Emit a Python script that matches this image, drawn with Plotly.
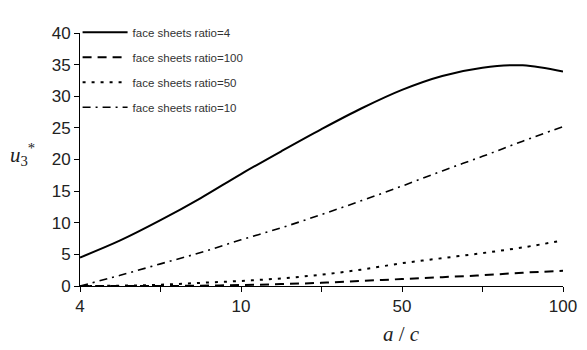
import plotly.graph_objects as go

# x positions on the (equally spaced) category axis; tick labels shown every other tick
x_pos = [0, 0.5, 1, 1.5, 2, 2.5, 3, 3.5, 4, 4.5, 5, 5.5, 6]
tick_vals = [0, 1, 2, 3, 4, 5, 6]
tick_text = ["4", "", "10", "", "50", "", "100"]

ratio_4 = [4.5, 7.2, 10.4, 13.9, 17.7, 21.3, 24.8, 28.1, 31.0, 33.2, 34.5, 34.9, 33.9]
ratio_100 = [0, 0, 0, 0.05, 0.15, 0.3, 0.5, 0.8, 1.1, 1.4, 1.7, 2.1, 2.4]
ratio_50 = [0, 0.05, 0.2, 0.5, 0.8, 1.2, 1.8, 2.6, 3.6, 4.4, 5.2, 6.1, 7.2]
ratio_10 = [0, 1.7, 3.5, 5.3, 7.3, 9.2, 11.3, 13.5, 15.8, 18.2, 20.5, 22.9, 25.2]

series = [
    ("face sheets ratio=4", ratio_4, "solid", 2),
    ("face sheets ratio=100", ratio_100, "9px,6px", 2),
    ("face sheets ratio=50", ratio_50, "3px,6px", 2),
    ("face sheets ratio=10", ratio_10, "8px,5px,2px,5px", 1.6),
]

fig = go.Figure()
for i, (name, ys, dash, w) in enumerate(series):
    fig.add_trace(go.Scatter(
        x=x_pos, y=ys, name=name, mode="lines",
        line=dict(color="black", width=w, dash=dash, shape="spline", smoothing=1.0),
        legendgroup=f"g{i}",
    ))

fig.update_layout(
    width=579, height=342,
    margin=dict(l=72, r=19, t=10, b=64),
    plot_bgcolor="white", paper_bgcolor="white",
    showlegend=True,
    legend=dict(
        x=-0.005, y=1.06, xanchor="left", yanchor="top", itemwidth=45,
        font=dict(family="Arial, Liberation Sans, sans-serif", size=11.5, color="#333"),
        bgcolor="rgba(0,0,0,0)", tracegroupgap=6, borderwidth=0,
    ),
    xaxis=dict(
        range=[0, 6], tickmode="array", tickvals=tick_vals, ticktext=tick_text,
        showgrid=False, zeroline=False, showline=True, linecolor="black", linewidth=1,
        ticks="outside", ticklen=5, tickcolor="black",
        tickfont=dict(family="Arial, Liberation Sans, sans-serif", size=17, color="#222"),
    ),
    yaxis=dict(
        range=[0, 40], tickmode="array", tickvals=[0, 5, 10, 15, 20, 25, 30, 35, 40],
        showgrid=False, zeroline=False, showline=True, linecolor="black", linewidth=1,
        ticks="outside", ticklen=5, tickcolor="black",
        tickfont=dict(family="Arial, Liberation Sans, sans-serif", size=17, color="#222"),
    ),
    annotations=[
        dict(text="<i>u</i><sub>3</sub><sup>*</sup>", xref="paper", yref="paper",
             x=-0.15, y=0.52, showarrow=False,
             font=dict(family="Liberation Serif, Times New Roman, serif", size=21, color="#222")),
        dict(text="<i>a</i> / <i>c</i>", xref="paper", yref="paper",
             x=0.665, y=-0.19, yanchor="middle", showarrow=False,
             font=dict(family="Liberation Serif, Times New Roman, serif", size=21, color="#222")),
    ],
)

fig.write_html("out.html")
